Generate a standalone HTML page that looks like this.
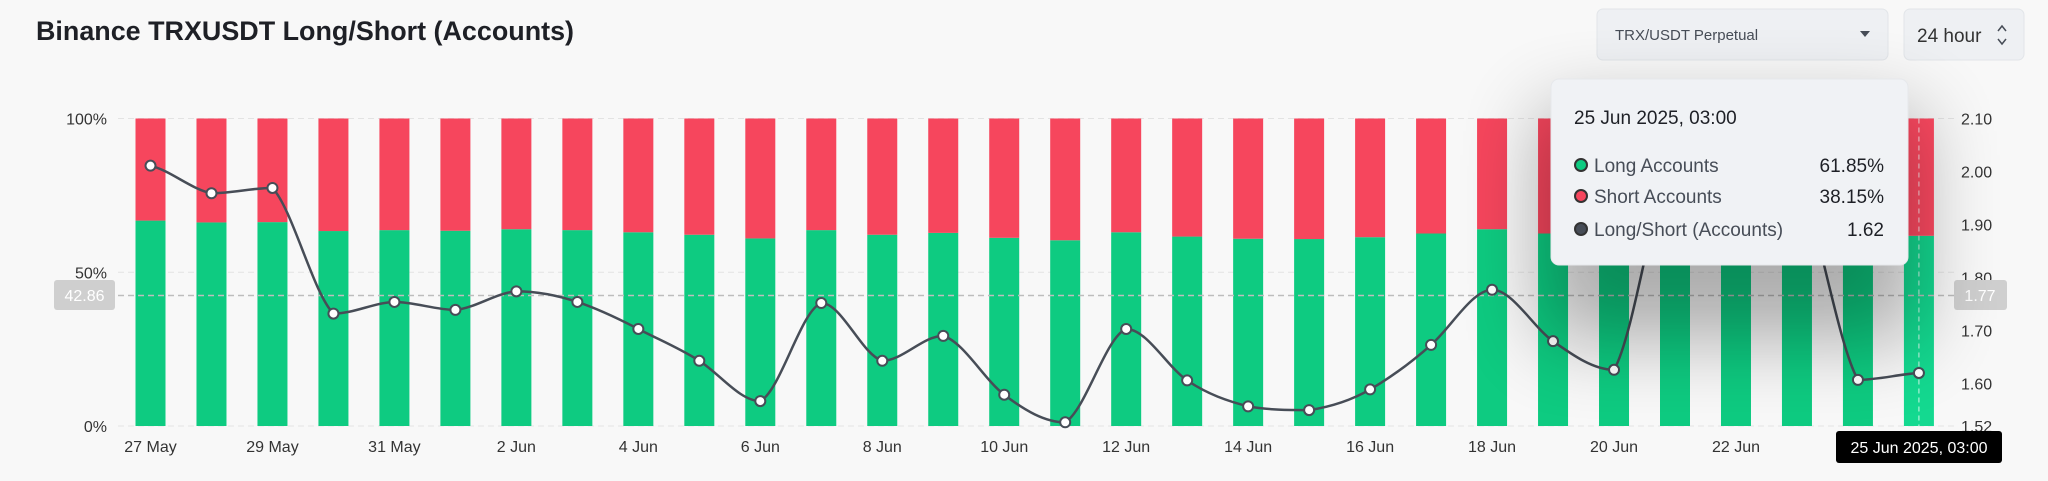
<!DOCTYPE html>
<html><head><meta charset="utf-8"><style>
html,body{margin:0;padding:0;background:#f8f8f8;}
body{width:2048px;height:481px;overflow:hidden;position:relative;font-family:"Liberation Sans",sans-serif;}
svg{position:absolute;left:0;top:0;}
</style></head><body>
<svg id="chart" width="2048" height="481">
<text x="36" y="40" font-size="27" font-weight="bold" fill="#1e2026" textLength="538" lengthAdjust="spacingAndGlyphs">Binance TRXUSDT Long/Short (Accounts)</text>
<g>
<rect x="1597" y="9" width="291" height="51" rx="6" fill="#eef0f3" stroke="#e2e5e9"/>
<text x="1615" y="40" font-size="15" fill="#474d57">TRX/USDT Perpetual</text>
<path d="M1860 31 l10 0 l-5 6z" fill="#474d57"/>
</g>
<g>
<rect x="1904" y="9" width="120" height="51" rx="6" fill="#eef0f3" stroke="#e2e5e9"/>
<text x="1917" y="42" font-size="19" fill="#333">24 hour</text>
<path d="M1998 31 l4 -5 l4 5 M1998 39 l4 5 l4 -5" stroke="#474d57" stroke-width="1.5" fill="none"/>
</g>
<g id="grid"></g>
<g id="bars"></g>
<g id="ovl"></g>
<g id="line"></g>
<g id="axes"></g>
</svg>
<script>
const categories=['27 May','28 May','29 May','30 May','31 May','1 Jun','2 Jun','3 Jun','4 Jun','5 Jun','6 Jun','7 Jun','8 Jun','9 Jun','10 Jun','11 Jun','12 Jun','13 Jun','14 Jun','15 Jun','16 Jun','17 Jun','18 Jun','19 Jun','20 Jun','21 Jun','22 Jun','23 Jun','24 Jun','25 Jun'];
const longPct=[66.8,66.2,66.3,63.4,63.7,63.5,64.0,63.7,63.0,62.2,61.0,63.7,62.2,62.8,61.2,60.4,63.0,61.6,60.9,60.8,61.4,62.6,64.0,62.6,61.9,67.2,67.5,66.7,61.6,61.85];
const ratio=[2.011,1.959,1.969,1.732,1.754,1.739,1.774,1.754,1.703,1.643,1.567,1.752,1.643,1.690,1.579,1.527,1.703,1.606,1.557,1.550,1.589,1.673,1.777,1.680,1.626,2.05,2.08,2.00,1.607,1.62];
const leftTicks=['0%','50%','100%'];
const leftTickVals=[0,50,100];
const rightTicks=['1.52','1.60','1.70','1.80','1.90','2.00','2.10'];
const rightTickVals=[1.52,1.60,1.70,1.80,1.90,2.00,2.10];

const NS='http://www.w3.org/2000/svg';
const plotTop=118.5,plotBot=426,x0=150.5,pitch=60.98,bw=30;
const rMin=1.52,rMax=2.10;
const xS=i=>x0+i*pitch;
const yP=v=>plotBot-(v/100)*(plotBot-plotTop);
const yR=v=>plotBot-(v-rMin)/(rMax-rMin)*(plotBot-plotTop);
function mk(tag,attrs,parent){const e=document.createElementNS(NS,tag);for(const k in attrs)e.setAttribute(k,attrs[k]);parent.appendChild(e);return e;}
const grid=document.getElementById('grid'),bars=document.getElementById('bars'),line=document.getElementById('line'),axes=document.getElementById('axes'),ov=document.getElementById('ovl');
leftTickVals.forEach((v,i)=>{
  const l=mk('line',{x1:118,x2:1955,y1:yP(v),y2:yP(v),stroke:'#e3e3e3','stroke-dasharray':'6 4'},grid);
  
  
  const t=mk('text',{x:107,y:yP(v)+6,'font-size':16,fill:'#333','text-anchor':'end'},axes);
  t.textContent=leftTicks[i];
  
  
});
rightTickVals.forEach((v,i)=>{
  const t=mk('text',{x:1961,y:yR(v)+6,'font-size':16,fill:'#333'},axes);
  t.textContent=rightTicks[i];
  
  
});
categories.forEach((c,i)=>{
  const last=i===categories.length-1;
  const x=xS(i)-bw/2,yl=yP(longPct[i]);
  const g=mk('rect',{x:x,y:yl,width:bw,height:plotBot-yl,fill:last?'#14d990':'#0ecb81'},bars);
  
  
  const r=mk('rect',{x:x,y:plotTop,width:bw,height:yl-plotTop,fill:last?'#ff4a62':'#f6465d'},bars);
  
  
  if(i%2===0&&!last&&i!==28){
    const t=mk('text',{x:xS(i),y:452,'font-size':16,fill:'#333','text-anchor':'middle'},axes);
    t.textContent=c;
    
    
  }
});
const pts=ratio.map((v,i)=>[xS(i),yR(v)]);
let d='M'+pts[0][0]+' '+pts[0][1];
for(let i=0;i<pts.length-1;i++){
  const p0=pts[i-1]||pts[i],p1=pts[i],p2=pts[i+1],p3=pts[i+2]||p2;
  const t=0.18;
  let c1y=p1[1]+(p2[1]-p0[1])*t,c2y=p2[1]-(p3[1]-p1[1])*t;
  const lo=Math.min(p1[1],p2[1]),hi=Math.max(p1[1],p2[1]);
  c1y=Math.max(lo,Math.min(hi,c1y));c2y=Math.max(lo,Math.min(hi,c2y));
  d+=' C'+(p1[0]+pitch/3)+' '+c1y+' '+(p2[0]-pitch/3)+' '+c2y+' '+p2[0]+' '+p2[1];
}
const pl=mk('path',{d:d,fill:'none',stroke:'#474d57','stroke-width':2.5},line);


pts.forEach(p=>{
  const c=mk('circle',{cx:p[0],cy:p[1],r:5,fill:'#fff',stroke:'#474d57','stroke-width':2},line);
  
  
});
const lx=xS(categories.length-1);
const h=mk('line',{x1:118,x2:1955,y1:295.5,y2:295.5,stroke:'#bdbdbd','stroke-dasharray':'6 4','stroke-width':1.5},ov);


const v=mk('line',{x1:lx,x2:lx,y1:plotTop,y2:plotBot,stroke:'#ffffff','stroke-dasharray':'5 4','stroke-opacity':0.8},ov);


</script>
<svg width="2048" height="481" style="position:absolute;left:0;top:0">
<defs><filter id="blur" x="-50%" y="-80%" width="200%" height="260%"><feGaussianBlur stdDeviation="40"/></filter></defs>
<g>
<rect x="54" y="280" width="61" height="30" rx="3" fill="#cfcfcf"/>
<text x="84.5" y="301" font-size="16" fill="#fff" text-anchor="middle">42.86</text>
</g>
<g>
<rect x="1954" y="280" width="53" height="30" rx="3" fill="#cfcfcf"/>
<text x="1980" y="301" font-size="16" fill="#fff" text-anchor="middle">1.77</text>
</g>
<rect x="1540" y="110" width="380" height="230" fill="#000" opacity="0.3" filter="url(#blur)"/>
<g>
<rect x="1551" y="79" width="357" height="186" rx="8" fill="#f0f2f5" stroke="#e6e8eb"/>
<text x="1574" y="124" font-size="19" fill="#1e2026">25 Jun 2025, 03:00</text>
<circle cx="1581" cy="165" r="6" fill="#0ecb81" stroke="#333" stroke-width="2"/>
<text x="1594" y="172" font-size="19" fill="#474d57">Long Accounts</text>
<text x="1884" y="172" font-size="19" fill="#1e2026" text-anchor="end">61.85%</text>
<circle cx="1581" cy="196" r="6" fill="#f6465d" stroke="#333" stroke-width="2"/>
<text x="1594" y="203" font-size="19" fill="#474d57">Short Accounts</text>
<text x="1884" y="203" font-size="19" fill="#1e2026" text-anchor="end">38.15%</text>
<circle cx="1581" cy="229" r="6" fill="#474d57" stroke="#333" stroke-width="2"/>
<text x="1594" y="236" font-size="19" fill="#474d57">Long/Short (Accounts)</text>
<text x="1884" y="236" font-size="19" fill="#1e2026" text-anchor="end">1.62</text>
</g>
<g>
<rect x="1836" y="431" width="166" height="32" rx="3" fill="#000"/>
<text x="1919" y="453" font-size="16" fill="#fff" text-anchor="middle">25 Jun 2025, 03:00</text>
</g>
</svg>
</body></html>
